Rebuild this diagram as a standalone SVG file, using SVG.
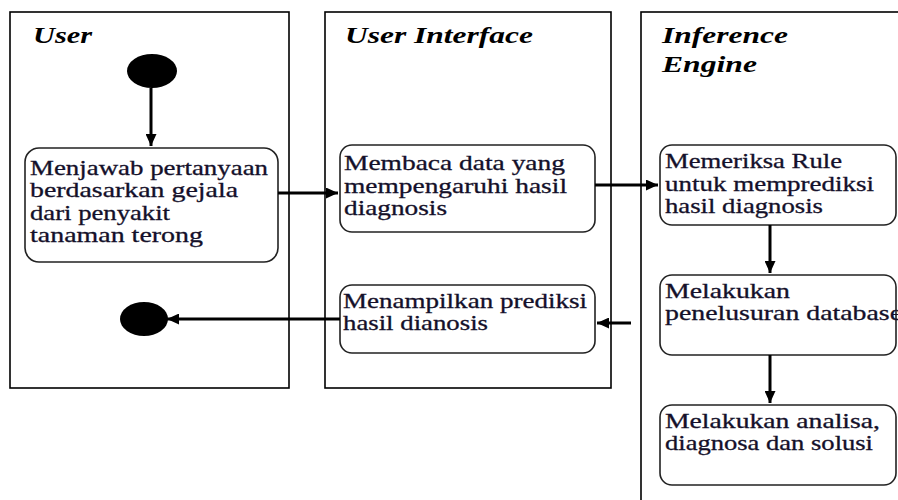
<svg xmlns="http://www.w3.org/2000/svg" width="898" height="500" viewBox="0 0 898 500">
  <defs>
    <marker id="arrow" viewBox="0 0 12 11" refX="12" refY="5.5" markerWidth="12" markerHeight="11" orient="auto" markerUnits="userSpaceOnUse">
      <path d="M0,0 L12,5.5 L0,11 Z" fill="#000"/>
    </marker>
    <style>
      .lane { fill: #fff; stroke: #000; stroke-width: 1.6; }
      .title { font-family: 'Liberation Serif', serif; font-weight: 700; font-style: italic; font-size: 23px; fill: #000; }
      .box { fill: #fff; stroke: #222; stroke-width: 1.6; }
      .label { font-family: 'Liberation Serif', serif; font-size: 21px; fill: #14102a; stroke: #14102a; stroke-width: 0.3; }
      .conn { fill: none; stroke: #000; stroke-width: 3; marker-end: url(#arrow); }
      .dot { fill: #000; }
    </style>
  </defs>

  <rect width="898" height="500" fill="#fff"/>

  <!-- Swimlanes -->
  <g id="lane-user">
    <rect class="lane" x="10" y="12" width="279" height="376"/>
    <text class="title" x="33" y="43" textLength="59" lengthAdjust="spacingAndGlyphs">User</text>
  </g>
  <g id="lane-ui">
    <rect class="lane" x="325" y="12" width="286" height="376"/>
    <text class="title" x="345" y="43" textLength="188" lengthAdjust="spacingAndGlyphs">User Interface</text>
  </g>
  <g id="lane-engine">
    <rect class="lane" x="641" y="12" width="270" height="500"/>
    <text class="title" x="662" y="43" textLength="126" lengthAdjust="spacingAndGlyphs">Inference</text>
    <text class="title" x="662" y="72" textLength="95" lengthAdjust="spacingAndGlyphs">Engine</text>
  </g>

  <!-- Start / end -->
  <g id="start">
    <ellipse class="dot" cx="152" cy="71" rx="25" ry="17"/>
  </g>
  <g id="end">
    <ellipse class="dot" cx="144" cy="319" rx="24" ry="17"/>
  </g>

  <!-- Activities -->
  <g id="menjawab">
    <rect class="box" x="25" y="148" width="253" height="114" rx="14"/>
    <text class="label" x="30" y="175" textLength="238" lengthAdjust="spacingAndGlyphs">Menjawab pertanyaan</text>
    <text class="label" x="30" y="197" textLength="208" lengthAdjust="spacingAndGlyphs">berdasarkan gejala</text>
    <text class="label" x="30" y="220" textLength="140" lengthAdjust="spacingAndGlyphs">dari penyakit</text>
    <text class="label" x="30" y="242" textLength="173" lengthAdjust="spacingAndGlyphs">tanaman terong</text>
  </g>
  <g id="membaca">
    <rect class="box" x="340" y="145" width="255" height="87" rx="12"/>
    <text class="label" x="344" y="170" textLength="221" lengthAdjust="spacingAndGlyphs">Membaca data yang</text>
    <text class="label" x="344" y="193" textLength="223" lengthAdjust="spacingAndGlyphs">mempengaruhi hasil</text>
    <text class="label" x="344" y="215" textLength="103" lengthAdjust="spacingAndGlyphs">diagnosis</text>
  </g>
  <g id="menampilkan">
    <rect class="box" x="340" y="285" width="255" height="68" rx="12"/>
    <text class="label" x="343" y="308" textLength="244" lengthAdjust="spacingAndGlyphs">Menampilkan prediksi</text>
    <text class="label" x="343" y="330" textLength="145" lengthAdjust="spacingAndGlyphs">hasil dianosis</text>
  </g>
  <g id="memeriksa">
    <rect class="box" x="660" y="145" width="236" height="80" rx="12"/>
    <text class="label" x="665" y="168" textLength="177" lengthAdjust="spacingAndGlyphs">Memeriksa Rule</text>
    <text class="label" x="665" y="191" textLength="209" lengthAdjust="spacingAndGlyphs">untuk memprediksi</text>
    <text class="label" x="665" y="213" textLength="158" lengthAdjust="spacingAndGlyphs">hasil diagnosis</text>
  </g>
  <g id="penelusuran">
    <rect class="box" x="660" y="275" width="236" height="80" rx="12"/>
    <text class="label" x="665" y="298" textLength="125" lengthAdjust="spacingAndGlyphs">Melakukan</text>
    <text class="label" x="665" y="320" textLength="237" lengthAdjust="spacingAndGlyphs">penelusuran database</text>
  </g>
  <g id="analisa">
    <rect class="box" x="660" y="405" width="236" height="80" rx="12"/>
    <text class="label" x="665" y="428" textLength="215" lengthAdjust="spacingAndGlyphs">Melakukan analisa,</text>
    <text class="label" x="665" y="450" textLength="208" lengthAdjust="spacingAndGlyphs">diagnosa dan solusi</text>
  </g>

  <!-- Connectors -->
  <g id="connectors">
    <line class="conn" x1="151" y1="88" x2="151" y2="146"/>
    <line class="conn" x1="278" y1="193" x2="338" y2="193"/>
    <line class="conn" x1="595" y1="185" x2="658" y2="185"/>
    <line class="conn" x1="631" y1="323" x2="597" y2="323"/>
    <line class="conn" x1="340" y1="319" x2="167" y2="319"/>
    <line class="conn" x1="770" y1="225" x2="770" y2="273"/>
    <line class="conn" x1="770" y1="355" x2="770" y2="403"/>
  </g>
</svg>
